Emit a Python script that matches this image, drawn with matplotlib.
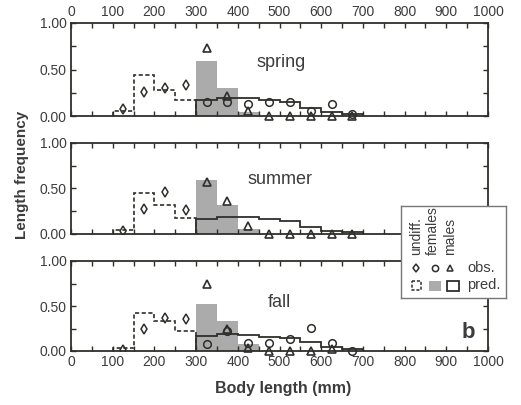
import numpy as np
import matplotlib.pyplot as plt
from matplotlib.patches import Rectangle

plt.rcParams["font.family"] = ["Liberation Sans", "DejaVu Sans"]

seasons = ["spring", "summer", "fall"]

# bin edges (mm)
und_edges = [100, 150, 200, 250, 300]
fem_edges = [300, 350, 400, 450]
male_edges = [300, 350, 400, 450, 500, 550, 600, 650, 700]

# observation positions (bin centres)
und_x = [125, 175, 225, 275]
obs_x = [325, 375, 425, 475, 525, 575, 625, 675]

# predicted frequencies
und_pred = {
    "spring": [0.05, 0.44, 0.28, 0.17],
    "summer": [0.045, 0.45, 0.32, 0.18],
    "fall": [0.03, 0.42, 0.33, 0.22],
}
fem_pred = {
    "spring": [0.59, 0.30, 0.04],
    "summer": [0.59, 0.32, 0.05],
    "fall": [0.52, 0.33, 0.08],
}
male_pred = {
    "spring": [0.17, 0.19, 0.19, 0.17, 0.15, 0.09, 0.04, 0.02],
    "summer": [0.17, 0.19, 0.19, 0.17, 0.14, 0.08, 0.03, 0.02],
    "fall": [0.17, 0.19, 0.18, 0.16, 0.14, 0.10, 0.05, 0.02],
}

# observed frequencies
und_obs = {
    "spring": [0.07, 0.26, 0.30, 0.33],
    "summer": [0.03, 0.27, 0.46, 0.26],
    "fall": [0.01, 0.24, 0.37, 0.36],
}
fem_obs = {
    "spring": [0.15, 0.15, 0.13, 0.15, 0.15, 0.05, 0.13, 0.02],
    "summer": None,
    "fall": [0.08, 0.22, 0.09, 0.09, 0.13, 0.26, 0.09, 0.0],
}
male_obs = {
    "spring": [0.73, 0.22, 0.05, 0.0, 0.0, 0.0, 0.0, 0.0],
    "summer": [0.57, 0.36, 0.09, 0.0, 0.0, 0.0, 0.0, 0.0],
    "fall": [0.74, 0.24, 0.03, 0.0, 0.0, 0.0, 0.02, None],
}

# label positions (data coords)
season_pos = {"spring": (505, 0.57), "summer": (500, 0.60), "fall": (500, 0.54)}

line_c = "#2e2e2a"
text_c = "#3c3c3c"
gray = "#ababab"

fig = plt.figure(figsize=(5.21, 4.05), dpi=100)
left, width = 71 / 521, 417 / 521
boxes = [(23, 116), (143, 234), (261, 351)]
axs = []
for top, bot in boxes:
    ax = fig.add_axes([left, 1 - bot / 405, width, (bot - top) / 405])
    axs.append(ax)

for i, (ax, s) in enumerate(zip(axs, seasons)):
    ax.stairs(fem_pred[s], fem_edges, fill=True, color=gray, lw=0, zorder=1)
    ax.stairs(und_pred[s], und_edges, color=line_c, lw=1.2, ls=(0, (2.5, 1.5)), zorder=2)
    ax.stairs(male_pred[s], male_edges, color=line_c, lw=1.3, zorder=2)

    ax.plot(und_x, und_obs[s], ls="none", marker="d", ms=5, mfc="none",
            mec=line_c, mew=1.1, zorder=3)
    if fem_obs[s] is not None:
        ax.plot(obs_x, fem_obs[s], ls="none", marker="o", ms=5.5, mfc="none",
                mec=line_c, mew=1.1, zorder=3, clip_on=False)
    mx = [x for x, y in zip(obs_x, male_obs[s]) if y is not None]
    my = [y for y in male_obs[s] if y is not None]
    ax.plot(mx, my, ls="none", marker="^", ms=5.5, mfc="none",
            mec=line_c, mew=1.2, zorder=3, clip_on=False)

    ax.text(*season_pos[s], s, fontsize=13, color=text_c, ha="center", va="center")

    ax.set_xlim(0, 1000)
    ax.set_ylim(0, 1)
    ax.set_xticks(np.arange(0, 1001, 100))
    ax.set_xticks(np.arange(50, 1000, 100), minor=True)
    ax.set_yticks([0, 0.5, 1.0])
    ax.set_yticks([0.25, 0.75], minor=True)
    ax.set_yticklabels(["0.00", "0.50", "1.00"])
    ax.tick_params(which="both", direction="in", top=True, right=True,
                   length=3.5, width=1.0, color=line_c, labelsize=10,
                   labelcolor=text_c, pad=3)
    ax.tick_params(axis="x", labelbottom=(i == 2), labeltop=(i == 0))
    for sp in ax.spines.values():
        sp.set_color(line_c)
        sp.set_linewidth(1.3)

axs[2].text(952, 0.2, "b", fontsize=16, fontweight="bold", color=text_c,
            ha="center", va="center")

fig.text(0.042, 0.568, "Length frequency", rotation=90, fontsize=11,
         fontweight="bold", color=text_c, ha="center", va="center")
fig.text(0.544, 0.040, "Body length (mm)", fontsize=11.5, fontweight="bold",
         color=text_c, ha="center", va="center")

# custom legend box
lg = fig.add_axes([401 / 521, 1 - 298 / 405, 105 / 521, 92 / 405], zorder=10)
lg.set_xlim(0, 105)
lg.set_ylim(92, 0)
lg.set_xticks([])
lg.set_yticks([])
for sp in lg.spines.values():
    sp.set_color("#777777")
    sp.set_linewidth(1.0)
cols = [15, 32, 49]
for cx, lab in zip(cols, ["undiff.", "females", "males"]):
    lg.text(cx, 49, lab, rotation=90, fontsize=10, color=text_c,
            ha="center", va="bottom")
for cx, m, ms in zip([15, 34, 49], ["d", "o", "^"], [4.5, 4.5, 5]):
    lg.plot(cx, 62, marker=m, ms=ms, mfc="none", mec=line_c, mew=1.1)
lg.text(66, 62, "obs.", fontsize=10.5, color=text_c, va="center")
lg.add_patch(Rectangle((10.5, 75), 9, 9, fill=False, ec=line_c, lw=1.1,
                       ls=(0, (2, 1.2))))
lg.add_patch(Rectangle((28, 74.5), 12, 10, fc=gray, ec="none"))
lg.add_patch(Rectangle((46, 74.5), 12, 10, fill=False, ec=line_c, lw=1.3))
lg.text(66, 79, "pred.", fontsize=10.5, color=text_c, va="center")

fig.savefig("out.png", dpi=100)
